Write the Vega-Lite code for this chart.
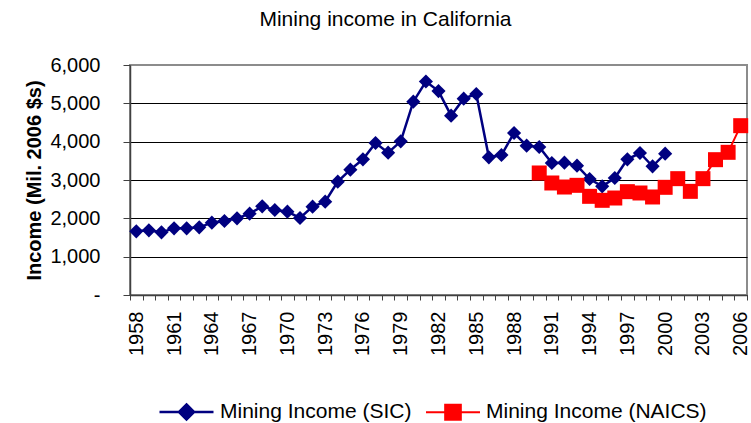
{
  "$schema": "https://vega.github.io/schema/vega-lite/v6.json",
  "width": 617,
  "height": 230,
  "autosize": "none",
  "padding": {"left": 130, "top": 65, "right": 4, "bottom": 128},
  "background": "white",
  "config": {
    "font": "Liberation Sans",
    "view": {"stroke": "#8c8c8c", "strokeWidth": 2}
  },
  "title": {
    "text": "Mining income in California",
    "fontSize": 21,
    "fontWeight": "normal",
    "font": "Liberation Sans",
    "color": "black",
    "anchor": "middle",
    "dx": -53,
    "offset": 25
  },
  "data": {
    "values": [
      {"year": 1958, "series": "Mining Income (SIC)", "value": 1661},
      {"year": 1959, "series": "Mining Income (SIC)", "value": 1687},
      {"year": 1960, "series": "Mining Income (SIC)", "value": 1635},
      {"year": 1961, "series": "Mining Income (SIC)", "value": 1739},
      {"year": 1962, "series": "Mining Income (SIC)", "value": 1739},
      {"year": 1963, "series": "Mining Income (SIC)", "value": 1765},
      {"year": 1964, "series": "Mining Income (SIC)", "value": 1887},
      {"year": 1965, "series": "Mining Income (SIC)", "value": 1930},
      {"year": 1966, "series": "Mining Income (SIC)", "value": 2000},
      {"year": 1967, "series": "Mining Income (SIC)", "value": 2122},
      {"year": 1968, "series": "Mining Income (SIC)", "value": 2313},
      {"year": 1969, "series": "Mining Income (SIC)", "value": 2217},
      {"year": 1970, "series": "Mining Income (SIC)", "value": 2174},
      {"year": 1971, "series": "Mining Income (SIC)", "value": 2009},
      {"year": 1972, "series": "Mining Income (SIC)", "value": 2304},
      {"year": 1973, "series": "Mining Income (SIC)", "value": 2435},
      {"year": 1974, "series": "Mining Income (SIC)", "value": 2957},
      {"year": 1975, "series": "Mining Income (SIC)", "value": 3270},
      {"year": 1976, "series": "Mining Income (SIC)", "value": 3539},
      {"year": 1977, "series": "Mining Income (SIC)", "value": 3965},
      {"year": 1978, "series": "Mining Income (SIC)", "value": 3713},
      {"year": 1979, "series": "Mining Income (SIC)", "value": 4009},
      {"year": 1980, "series": "Mining Income (SIC)", "value": 5043},
      {"year": 1981, "series": "Mining Income (SIC)", "value": 5570},
      {"year": 1982, "series": "Mining Income (SIC)", "value": 5320},
      {"year": 1983, "series": "Mining Income (SIC)", "value": 4678},
      {"year": 1984, "series": "Mining Income (SIC)", "value": 5122},
      {"year": 1985, "series": "Mining Income (SIC)", "value": 5243},
      {"year": 1986, "series": "Mining Income (SIC)", "value": 3591},
      {"year": 1987, "series": "Mining Income (SIC)", "value": 3652},
      {"year": 1988, "series": "Mining Income (SIC)", "value": 4226},
      {"year": 1989, "series": "Mining Income (SIC)", "value": 3896},
      {"year": 1990, "series": "Mining Income (SIC)", "value": 3861},
      {"year": 1991, "series": "Mining Income (SIC)", "value": 3443},
      {"year": 1992, "series": "Mining Income (SIC)", "value": 3452},
      {"year": 1993, "series": "Mining Income (SIC)", "value": 3374},
      {"year": 1994, "series": "Mining Income (SIC)", "value": 3026},
      {"year": 1995, "series": "Mining Income (SIC)", "value": 2835},
      {"year": 1996, "series": "Mining Income (SIC)", "value": 3052},
      {"year": 1997, "series": "Mining Income (SIC)", "value": 3539},
      {"year": 1998, "series": "Mining Income (SIC)", "value": 3704},
      {"year": 1999, "series": "Mining Income (SIC)", "value": 3357},
      {"year": 2000, "series": "Mining Income (SIC)", "value": 3687},
      {"year": 1990, "series": "Mining Income (NAICS)", "value": 3183},
      {"year": 1991, "series": "Mining Income (NAICS)", "value": 2922},
      {"year": 1992, "series": "Mining Income (NAICS)", "value": 2817},
      {"year": 1993, "series": "Mining Income (NAICS)", "value": 2861},
      {"year": 1994, "series": "Mining Income (NAICS)", "value": 2574},
      {"year": 1995, "series": "Mining Income (NAICS)", "value": 2470},
      {"year": 1996, "series": "Mining Income (NAICS)", "value": 2530},
      {"year": 1997, "series": "Mining Income (NAICS)", "value": 2696},
      {"year": 1998, "series": "Mining Income (NAICS)", "value": 2661},
      {"year": 1999, "series": "Mining Income (NAICS)", "value": 2557},
      {"year": 2000, "series": "Mining Income (NAICS)", "value": 2809},
      {"year": 2001, "series": "Mining Income (NAICS)", "value": 3035},
      {"year": 2002, "series": "Mining Income (NAICS)", "value": 2704},
      {"year": 2003, "series": "Mining Income (NAICS)", "value": 3035},
      {"year": 2004, "series": "Mining Income (NAICS)", "value": 3530},
      {"year": 2005, "series": "Mining Income (NAICS)", "value": 3722},
      {"year": 2006, "series": "Mining Income (NAICS)", "value": 4417}
    ]
  },
  "encoding": {
    "x": {
      "field": "year",
      "type": "quantitative",
      "scale": {"domain": [1957.5, 2006.5], "nice": false, "zero": false},
      "axis": {
        "title": null,
        "grid": false,
        "values": [1957.5, 1958.5, 1959.5, 1960.5, 1961.5, 1962.5, 1963.5, 1964.5, 1965.5, 1966.5, 1967.5, 1968.5, 1969.5, 1970.5, 1971.5, 1972.5, 1973.5, 1974.5, 1975.5, 1976.5, 1977.5, 1978.5, 1979.5, 1980.5, 1981.5, 1982.5, 1983.5, 1984.5, 1985.5, 1986.5, 1987.5, 1988.5, 1989.5, 1990.5, 1991.5, 1992.5, 1993.5, 1994.5, 1995.5, 1996.5, 1997.5, 1998.5, 1999.5, 2000.5, 2001.5, 2002.5, 2003.5, 2004.5, 2005.5, 2006.5],
        "labelExpr": "((datum.value + 0.5 - 1958) % 3 == 0) ? format(datum.value + 0.5, 'd') : ''",
        "labelOffset": 6.3,
        "labelAngle": 270,
        "labelFontSize": 20,
        "labelColor": "black",
        "labelOverlap": false,
        "labelFlush": false,
        "labelBound": false,
        "labelPadding": 11,
        "tickSize": 5,
        "tickColor": "#404040",
        "domainColor": "#404040",
        "domainWidth": 1.5
      }
    },
    "y": {
      "field": "value",
      "type": "quantitative",
      "scale": {"domain": [0, 6000], "nice": false},
      "axis": {
        "title": "Income (Mil. 2006 $s)",
        "titleFontSize": 20,
        "titleFontWeight": "bold",
        "titleColor": "black",
        "titlePadding": 5,
        "values": [0, 1000, 2000, 3000, 4000, 5000, 6000],
        "labelExpr": "datum.value == 0 ? '-\u00a0\u00a0\u00a0' : format(datum.value, ',')",
        "labelFontSize": 20,
        "labelColor": "black",
        "labelPadding": 23,
        "tickSize": 7,
        "tickColor": "#404040",
        "domainColor": "#404040",
        "domainWidth": 1.5,
        "grid": true,
        "gridColor": {"condition": {"test": "datum.value == 6000", "value": "transparent"}, "value": "black"},
        "gridWidth": 1,
        "gridOpacity": 1
      }
    },
    "color": {
      "field": "series",
      "type": "nominal",
      "scale": {"domain": ["Mining Income (SIC)", "Mining Income (NAICS)"], "range": ["#000080", "#ff0000"]},
      "legend": {
        "title": null,
        "orient": "none",
        "direction": "horizontal",
        "legendX": 28,
        "legendY": 318,
        "padding": 0,
        "symbolSize": 2916,
        "symbolStrokeWidth": 2.5,
        "symbolType": "M-1,0L1,0M0,-0.28L0.28,0L0,0.28L-0.28,0Z",
        "labelFontSize": 21,
        "labelColor": "black",
        "labelLimit": 0,
        "labelOffset": 5,
        "columnPadding": 10,
        "encode": {
          "symbols": {
            "update": {
              "shape": {"signal": "datum.value === 'Mining Income (SIC)' ? 'M-1,0L1,0M0,-0.28L0.28,0L0,0.28L-0.28,0Z' : 'M-1,0L1,0M-0.29,-0.28L0.29,-0.28L0.29,0.28L-0.29,0.28Z'"},
              "fill": {"signal": "datum.value === 'Mining Income (SIC)' ? '#000080' : '#ff0000'"},
              "stroke": {"signal": "datum.value === 'Mining Income (SIC)' ? '#000080' : '#ff0000'"},
              "strokeWidth": {"signal": "datum.value === 'Mining Income (SIC)' ? 2.5 : 2"},
              "opacity": {"value": 1},
              "fillOpacity": {"value": 1}
            }
          }
        }
      }
    }
  },
  "layer": [
    {
      "mark": {"type": "line"},
      "encoding": {
        "strokeWidth": {"field": "series", "type": "nominal", "scale": {"domain": ["Mining Income (SIC)", "Mining Income (NAICS)"], "range": [2.5, 2]}, "legend": null}
      }
    },
    {
      "transform": [{"filter": "datum.series === 'Mining Income (SIC)'"}],
      "mark": {"type": "point", "filled": true, "opacity": 1, "shape": "diamond", "size": 200}
    },
    {
      "transform": [{"filter": "datum.series === 'Mining Income (NAICS)'"}],
      "mark": {"type": "point", "filled": true, "opacity": 1, "shape": "square", "size": 225}
    }
  ]
}
